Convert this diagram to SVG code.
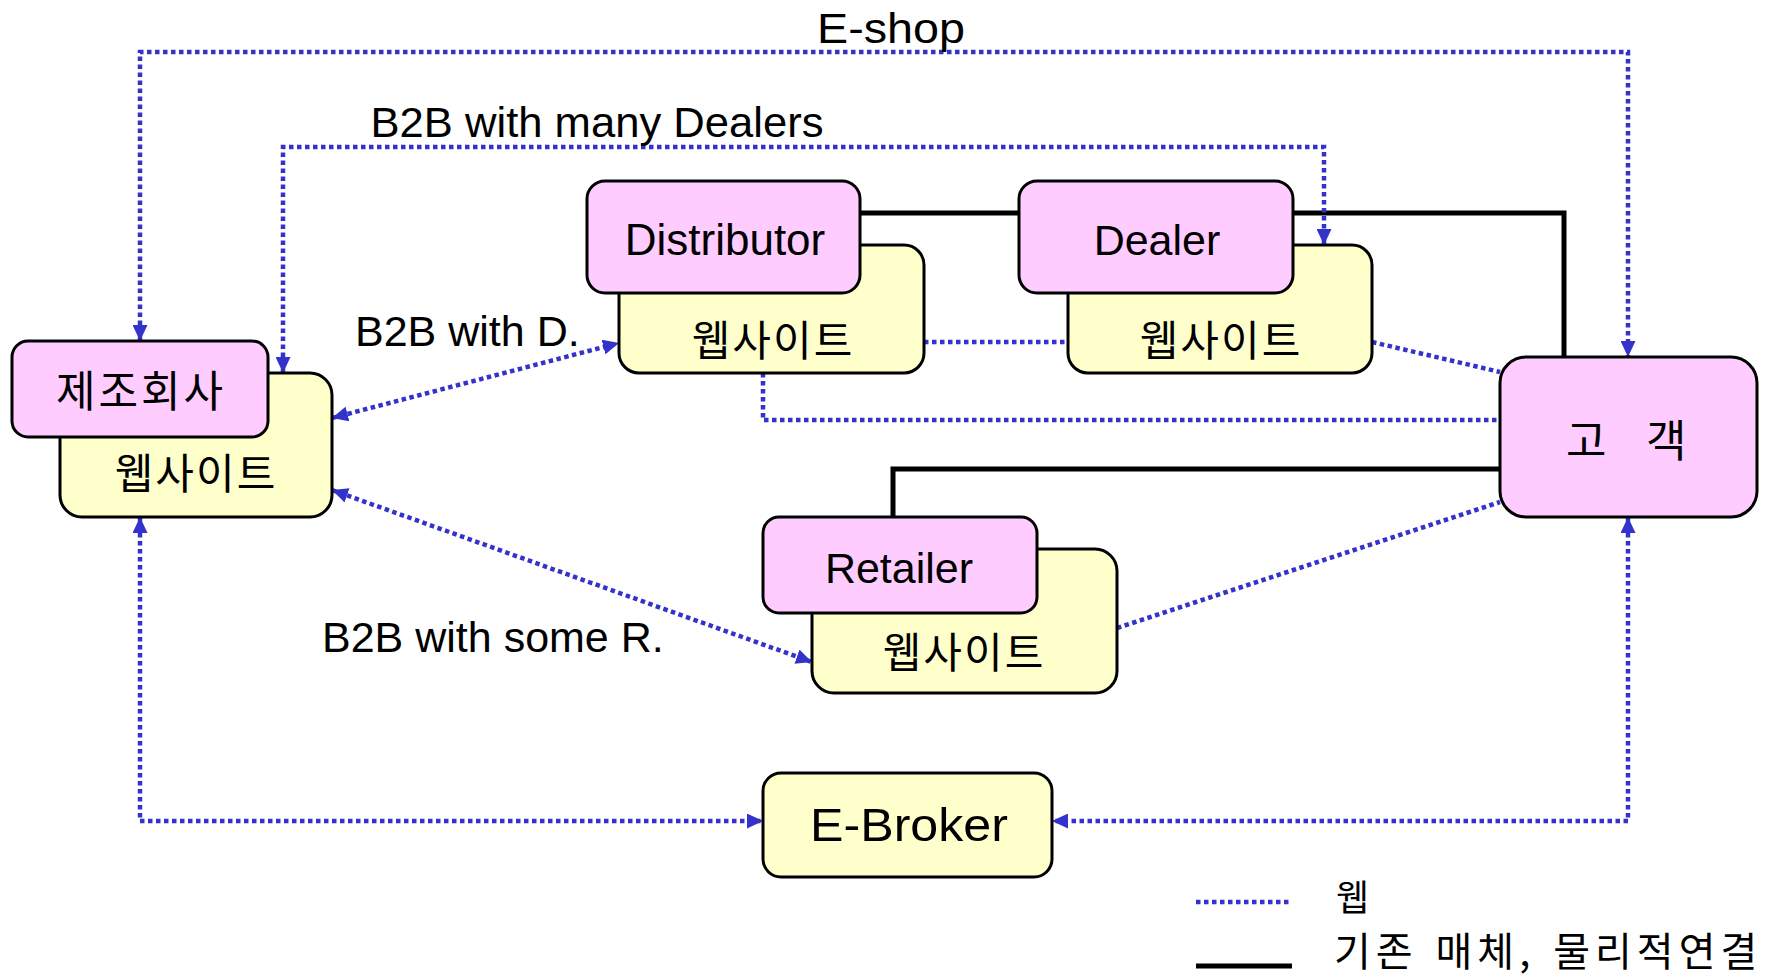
<svg xmlns="http://www.w3.org/2000/svg" width="1775" height="976" viewBox="0 0 1775 976">
  <style>
    .pink { fill: #FFCCFF; stroke: #000; stroke-width: 3; }
    .yellow { fill: #FFFFCC; stroke: #000; stroke-width: 3; }
    .web { fill: none; stroke: #3333CC; stroke-width: 4.5; stroke-dasharray: 4.5 3.5; }
    .wire { fill: none; stroke: #000; stroke-width: 5; }
    .lat { font-family: "Liberation Sans", Arial, sans-serif; font-size: 43px; fill: #000; }
    .kor { font-family: "Noto Sans CJK KR", "Noto Sans", sans-serif; font-size: 42px; letter-spacing: 2px; fill: #000; }
    .mid { text-anchor: middle; }
  </style>
  <defs>
    <marker id="arrow" markerUnits="userSpaceOnUse" markerWidth="16" markerHeight="15" refX="16" refY="7.5" orient="auto-start-reverse">
      <path d="M0,0 L16,7.5 L0,15 z" fill="#3333CC"/>
    </marker>
  </defs>
  <rect width="1775" height="976" fill="#fff"/>

  <g id="connectors">
    <!-- physical links -->
    <path class="wire" d="M860,213 H1564 V357"/>
    <path class="wire" d="M1500,469 H893 V517"/>
    <!-- web links without arrowheads -->
    <path class="web" d="M924,342 H1068"/>
    <path class="web" d="M1372,342 L1500,372"/>
    <path class="web" d="M763,373 V420 H1500"/>
    <path class="web" d="M1117,628 L1500,502"/>
    <!-- web links with arrowheads -->
    <path class="web" d="M140,341 V52 H1628 V357" marker-start="url(#arrow)" marker-end="url(#arrow)"/>
    <path class="web" d="M283,373 V147 H1324 V245" marker-start="url(#arrow)" marker-end="url(#arrow)"/>
    <path class="web" d="M332,418 L619,343" marker-start="url(#arrow)" marker-end="url(#arrow)"/>
    <path class="web" d="M332,490 L812,662" marker-start="url(#arrow)" marker-end="url(#arrow)"/>
    <path class="web" d="M140,517 V821 H763" marker-start="url(#arrow)" marker-end="url(#arrow)"/>
    <path class="web" d="M1628,517 V821 H1052" marker-start="url(#arrow)" marker-end="url(#arrow)"/>
  </g>

  <g id="labels">
    <text class="lat mid" x="891" y="43" textLength="148" lengthAdjust="spacingAndGlyphs">E-shop</text>
    <text class="lat mid" x="597" y="137" textLength="453" lengthAdjust="spacingAndGlyphs">B2B with many Dealers</text>
    <text class="lat" x="355" y="346">B2B with D.</text>
    <text class="lat" x="322" y="652">B2B with some R.</text>
  </g>

  <g id="manufacturer">
    <rect class="yellow" x="60" y="373" width="272" height="144" rx="22"/>
    <rect class="pink" x="12" y="341" width="256" height="96" rx="16"/>
    <text class="kor mid" x="141" y="407" style="font-size:43px;letter-spacing:3px">제조회사</text>
    <text class="kor mid" x="196" y="489">웹사이트</text>
  </g>

  <g id="distributor">
    <rect class="yellow" x="619" y="245" width="305" height="128" rx="20"/>
    <rect class="pink" x="587" y="181" width="273" height="112" rx="18"/>
    <text class="lat mid" x="725" y="255" style="font-size:44px">Distributor</text>
    <text class="kor mid" x="773" y="356">웹사이트</text>
  </g>

  <g id="dealer">
    <rect class="yellow" x="1068" y="245" width="304" height="128" rx="20"/>
    <rect class="pink" x="1019" y="181" width="274" height="112" rx="18"/>
    <text class="lat mid" x="1157" y="255">Dealer</text>
    <text class="kor mid" x="1221" y="356">웹사이트</text>
  </g>

  <g id="retailer">
    <rect class="yellow" x="812" y="549" width="305" height="144" rx="22"/>
    <rect class="pink" x="763" y="517" width="274" height="96" rx="16"/>
    <text class="lat mid" x="899" y="583">Retailer</text>
    <text class="kor mid" x="964" y="668">웹사이트</text>
  </g>

  <g id="customer">
    <rect class="pink" x="1500" y="357" width="257" height="160" rx="26"/>
    <text class="kor" x="1566 1608 1646" y="457" style="font-size:44px;letter-spacing:0">고 객</text>
  </g>

  <g id="ebroker">
    <rect class="yellow" x="763" y="773" width="289" height="104" rx="18"/>
    <text class="lat mid" x="909" y="841" style="font-size:47px" textLength="198" lengthAdjust="spacingAndGlyphs">E-Broker</text>
  </g>

  <g id="legend">
    <line class="web" x1="1196" y1="902" x2="1290" y2="902"/>
    <line class="wire" x1="1196" y1="966" x2="1292" y2="966"/>
    <text class="kor" x="1336" y="911" style="font-size:36px;letter-spacing:0">웹</text>
    <text class="kor" x="1334" y="966" style="font-size:40px;letter-spacing:5px;word-spacing:4px">기존 매체, 물리적연결</text>
  </g>
</svg>
